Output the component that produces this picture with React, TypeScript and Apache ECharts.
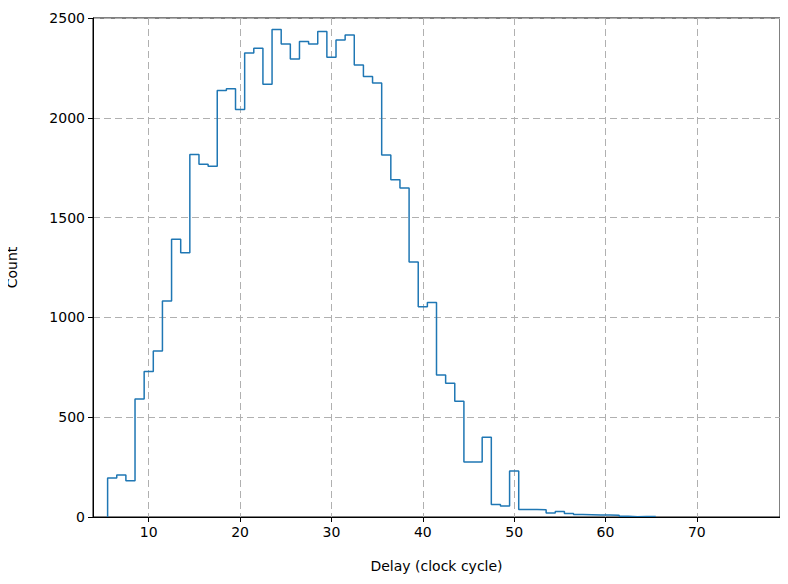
import React, { useEffect, useRef } from "react";
import * as echarts from "echarts";

// Histogram bins: centers 6..65, width 1
const binStart = 5.5;
const binWidth = 1;
const counts = [
  196, 211, 182, 591, 729, 832, 1082, 1391, 1324, 1816,
  1767, 1757, 2137, 2145, 2042, 2325, 2348, 2168, 2443, 2370,
  2295, 2382, 2370, 2432, 2303, 2390, 2415, 2265, 2207, 2174,
  1814, 1690, 1648, 1278, 1053, 1075, 712, 670, 580, 276,
  276, 400, 63, 55, 230, 38, 38, 36, 20, 27,
  18, 12, 11, 10, 10, 9, 4, 1, 3, 3,
];
const xTicks = [10, 20, 30, 40, 50, 60, 70];
const yTicks = [0, 500, 1000, 1500, 2000, 2500];

const buildStep = () => {
  const pts: [number, number][] = [];
  pts.push([binStart, 0]);
  counts.forEach((c, i) => {
    const l = binStart + i * binWidth;
    pts.push([l, c]);
    pts.push([l + binWidth, c]);
  });
  pts.push([binStart + counts.length * binWidth, 0]);
  return pts;
};

export default function App() {
  const ref = useRef<HTMLDivElement>(null);
  useEffect(() => {
    if (!ref.current) return;
    const chart = echarts.init(ref.current, undefined, { renderer: "svg" });
    const font = "DejaVu Sans";
    const gridLine = { color: "#b0b0b0", type: [7, 4], width: 1 };
    chart.setOption({
      animation: false,
      backgroundColor: "#fff",
      grid: {
        left: 93,
        right: 8,
        top: 18,
        bottom: 67,
        containLabel: false,
        outerBoundsMode: "none",
        show: true,
        borderColor: "#000",
        borderWidth: 1,
        backgroundColor: "transparent",
      },
      xAxis: [
        {
          type: "value",
          min: 3.9,
          max: 79.1,
          z: 0,
          axisLine: { show: false },
          axisTick: { show: false, customValues: xTicks },
          axisLabel: { show: false, customValues: xTicks },
          splitLine: { show: true, lineStyle: gridLine },
        },
        {
          type: "value",
          min: 3.9,
          max: 79.1,
          position: "bottom",
          z: 3,
          name: "Delay (clock cycle)",
          nameLocation: "middle",
          nameGap: 42,
          nameTextStyle: { fontFamily: font, fontSize: 14, color: "#000" },
          axisLine: { show: true, onZero: false, lineStyle: { color: "#000", width: 1 } },
          axisTick: {
            show: true,
            length: 5,
            customValues: xTicks,
            lineStyle: { color: "#000" },
          },
          axisLabel: {
            customValues: xTicks,
            fontFamily: font,
            fontSize: 14,
            color: "#000",
            margin: 8,
          },
          splitLine: { show: false },
        },
      ],
      yAxis: {
        type: "value",
        min: 0,
        max: 2500,
        interval: 500,
        name: "Count",
        nameLocation: "middle",
        nameGap: 74,
        nameTextStyle: { fontFamily: font, fontSize: 14, color: "#000" },
        axisLine: { show: true, lineStyle: { color: "#000", width: 1 } },
        axisTick: { show: true, length: 5, lineStyle: { color: "#000" } },
        axisLabel: {
          fontFamily: font,
          fontSize: 14,
          color: "#000",
          margin: 8,
          formatter: (v: number) => (yTicks.includes(v) ? String(v) : ""),
        },
        splitLine: { show: true, lineStyle: gridLine },
      },
      series: [
        {
          type: "line",
          xAxisIndex: 0,
          data: buildStep(),
          showSymbol: false,
          symbol: "none",
          lineStyle: { color: "#1f77b4", width: 1.5 },
          z: 2,
        },
      ],
    });
    return () => chart.dispose();
  }, []);
  return <div ref={ref} style={{ width: 788, height: 584, margin: -8 }} />;
}
